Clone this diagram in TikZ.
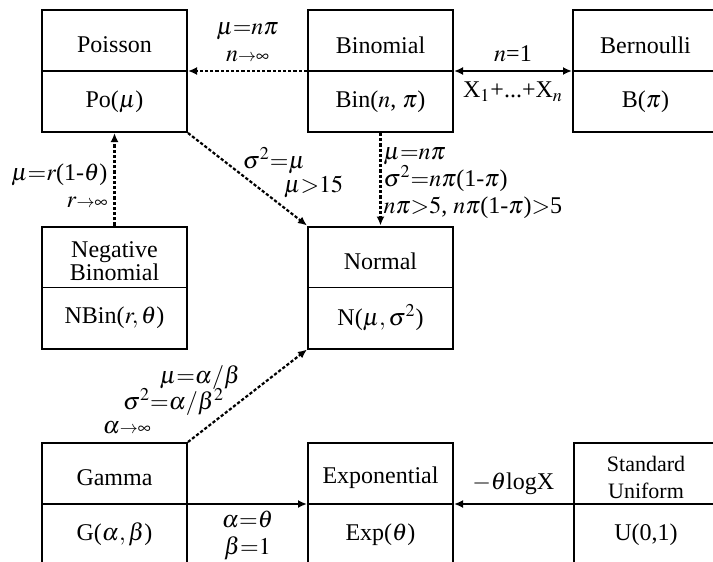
\documentclass[tikz,border=0pt,12pt]{standalone}
\usepackage{mathptmx}
\usepackage{fontspec}
\setmainfont{Liberation Serif}
\usetikzlibrary{arrows.meta,positioning,calc}

% one distribution: name, centre, title, law
\newcommand{\distnode}[4]{%
  \node[distbox] (#1) at (#2) {};
  \draw[divider] (#1.west) -- (#1.east);
  \node[boxtext] (#1-name) at ($(#1.north)!0.29!(#1.south)$) {#3};
  \node[boxtext] (#1-law) at ($(#1.north)!0.745!(#1.south)$) {#4};
}

\begin{document}
\begin{tikzpicture}[
    x=0.5pt, y=-0.5pt,
    font=\fontsize{12}{13.5}\selectfont,
    distbox/.style={draw, line width=1pt, minimum width=72.5pt, minimum height=61pt, inner sep=0pt},
    divider/.style={line width=0.6pt},
    boxtext/.style={align=center, inner sep=1pt},
    dotarrow/.style={line width=1.1pt, dash pattern=on 1.6pt off 1pt, -{Latex[length=4.5pt,width=4pt]}},
    fullarrow/.style={line width=1.1pt, -{Latex[length=4.5pt,width=4pt]}},
    cond/.style={align=center, inner sep=1pt}
]

    \useasboundingbox (0,0) rectangle (713,562);

    % Boxes
    \distnode{pois}{114.5,71}{Poisson}{Po($\mu$)}
    \distnode{binom}{380.5,71}{Binomial}{Bin($n$, $\pi$)}
    \distnode{bern}{645.5,71}{Bernoulli}{B($\pi$)}
    \distnode{negbin}{114.5,287.5}{Negative\\[-2pt]Binomial}{NBin($r,\theta$)}
    \distnode{normal}{380.5,287.5}{Normal}{N($\mu,\sigma^2$)}
    \distnode{gamma}{114.5,504}{Gamma}{G($\alpha,\beta$)}
    \distnode{expo}{380.5,504}{Exponential}{Exp($\theta$)}
    \distnode{unif}{646,504}{\fontsize{11}{11.5}\selectfont Standard\\\fontsize{11}{11.5}\selectfont Uniform}{U(0,1)}

    % Limits (dotted)
    \draw[dotarrow] (binom.west) -- (pois.east)
        node[cond, midway, above=3pt] {$\mu{=}n\pi$\\$n{\scriptstyle\rightarrow\infty}$};
    \draw[dotarrow] (pois.south east) -- (normal.north west)
        node[cond, pos=0.3, right=8pt] {$\sigma^2{=}\mu$}
        node[cond, pos=0.58, right=12pt] {$\mu{>}15$};
    \draw[dotarrow] (binom.south) -- (normal.north)
        node[cond, midway, anchor=west, align=left, yshift=-2pt] {$\mu{=}n\pi$\\$\sigma^2{=}n\pi$(1-$\pi$)\\$n\pi{>}5$, $n\pi$(1-$\pi$)$>$5};
    \draw[dotarrow] (negbin.north) -- (pois.south)
        node[cond, midway, anchor=east, align=right, yshift=-3pt, xshift=-2pt] {$\mu{=}r$(1-$\theta$)\\$r{\scriptstyle\rightarrow\infty}$};
    \draw[dotarrow] (gamma.north east) -- (normal.south west)
        node[cond, pos=0.70, left=14pt] {$\mu{=}\alpha/\beta$}
        node[cond, pos=0.43, left=6pt] {$\sigma^2{=}\alpha/\beta^2$}
        node[cond, pos=0.15, left=26pt] {$\alpha{\scriptstyle\rightarrow\infty}$};

    % Special cases (solid)
    \draw[fullarrow, {Latex[length=4.5pt,width=4pt]}-{Latex[length=4.5pt,width=4pt]}] (binom.east) -- (bern.west)
        node[cond, midway, above=3pt] {$n$=1}
        node[cond, midway, below=4pt] {X$_1$+...+X$_n$};
    \draw[fullarrow] (gamma.east) -- (expo.west)
        node[cond, midway, below=2pt] {$\alpha{=}\theta$\\$\beta{=}1$};
    \draw[fullarrow] (unif.west) -- (expo.east)
        node[cond, midway, above=3pt] {$-\theta$logX};

\end{tikzpicture}
\end{document}
